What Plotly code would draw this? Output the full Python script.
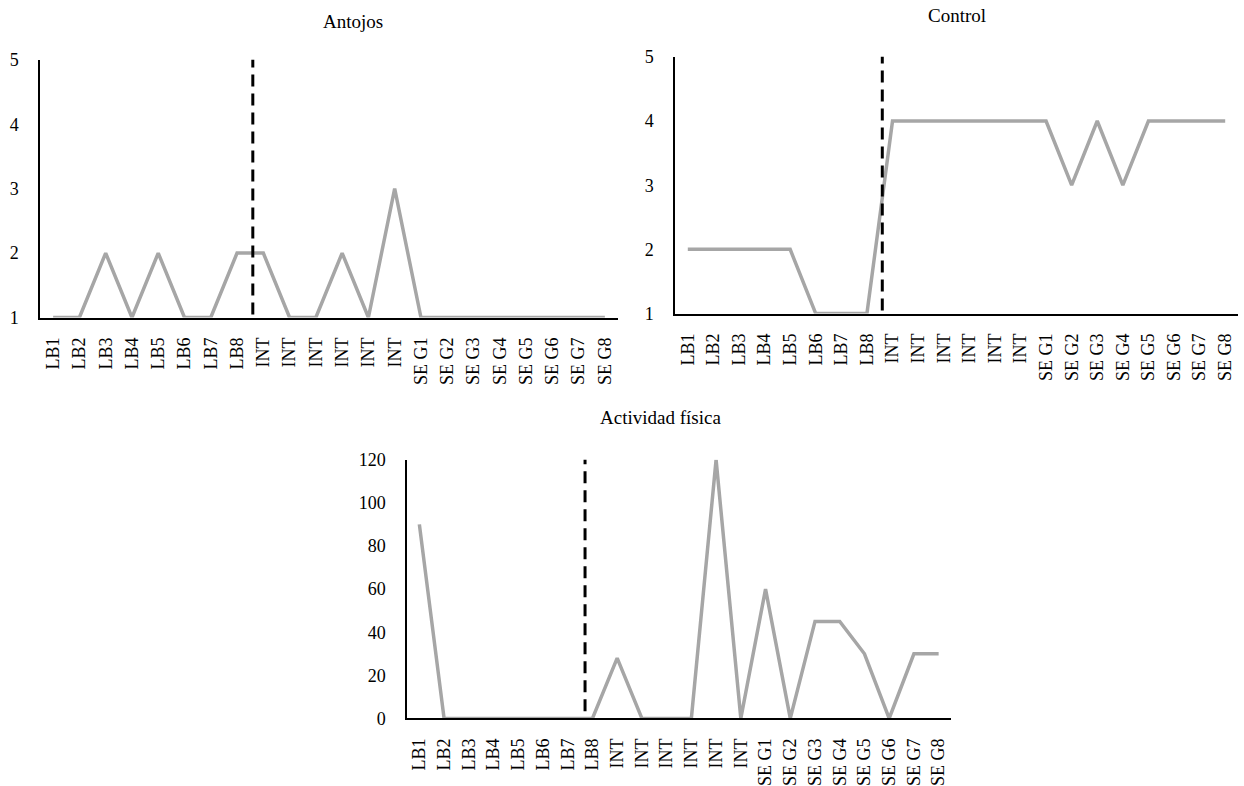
import plotly.graph_objects as go

categories = ["LB1", "LB2", "LB3", "LB4", "LB5", "LB6", "LB7", "LB8",
              "INT", "INT", "INT", "INT", "INT", "INT",
              "SEG1", "SEG2", "SEG3", "SEG4", "SEG5", "SEG6", "SEG7", "SEG8"]
tick_labels = ["LB1", "LB2", "LB3", "LB4", "LB5", "LB6", "LB7", "LB8",
               "INT", "INT", "INT", "INT", "INT", "INT",
               "SE G1", "SE G2", "SE G3", "SE G4", "SE G5", "SE G6", "SE G7", "SE G8"]

antojos = [1, 1, 2, 1, 2, 1, 1, 2, 2, 1, 1, 2, 1, 3, 1, 1, 1, 1, 1, 1, 1, 1]
control = [2, 2, 2, 2, 2, 1, 1, 1, 4, 4, 4, 4, 4, 4, 4, 3, 4, 3, 4, 4, 4, 4]
actividad = [90, 0, 0, 0, 0, 0, 0, 0, 28, 0, 0, 0, 120, 0, 60, 0, 45, 45, 30, 0, 30, 30]

titles = ["Antojos", "Control", "Actividad física"]
phase_change = [7.6, 7.6, 6.7]

W, H = 1244, 786
FONT = "Liberation Serif"
GRAY = "#A6A6A6"

idx = list(range(len(categories)))

fig = go.Figure()
series = [antojos, control, actividad]
for i, ys in enumerate(series):
    ax = "" if i == 0 else str(i + 1)
    fig.add_trace(go.Scatter(
        x=idx, y=ys, mode="lines",
        line=dict(color=GRAY, width=3.5),
        xaxis="x" + ax, yaxis="y" + ax, showlegend=False,
        hovertext=categories,
    ))

def px_x(p):
    return p / W

def px_y(p):
    # compensate for the observed vertical fit of the rendered page
    return 1 - ((p - 10.6) / 0.974) / H

xdomains = [[px_x(40), px_x(618)], [px_x(675), px_x(1238)], [px_x(407), px_x(951)]]
ydomains = [[px_y(322), px_y(61)], [px_y(318), px_y(58)], [px_y(728), px_y(466)]]
yranges = [[1, 5], [1, 5], [0, 120]]
ytickvals = [[1, 2, 3, 4, 5], [1, 2, 3, 4, 5], [0, 20, 40, 60, 80, 100, 120]]

layout = dict(
    width=W, height=H,
    margin=dict(l=0, r=0, t=0, b=0),
    paper_bgcolor="white", plot_bgcolor="white",
    font=dict(family=FONT, color="black", size=18),
    showlegend=False,
)
for i in range(3):
    ax = "" if i == 0 else str(i + 1)
    layout["xaxis" + ax] = dict(
        domain=xdomains[i], anchor="y" + ax, range=[-0.5, 21.5],
        tickmode="array", tickvals=idx, ticktext=tick_labels, tickangle=-90,
        showline=True, linecolor="black", linewidth=1.5,
        showgrid=False, zeroline=False,
        ticks="outside", ticklen=11, tickcolor="rgba(0,0,0,0)",
        tickfont=dict(family=FONT, size=18, color="black"),
    )
    layout["yaxis" + ax] = dict(
        domain=ydomains[i], anchor="x" + ax, range=yranges[i],
        tickmode="array", tickvals=ytickvals[i],
        showline=True, linecolor="black", linewidth=1.5,
        showgrid=False, zeroline=False,
        ticks="outside", ticklen=16, tickcolor="rgba(0,0,0,0)",
        tickfont=dict(family=FONT, size=18, color="black"),
    )
fig.update_layout(**layout)

dash_y = [[0.75, 5.05], [0.75, 5.06], [-5.5, 120.5]]
for i in range(3):
    ax = "" if i == 0 else str(i + 1)
    fig.add_shape(type="line", xref="x" + ax, yref="y" + ax,
                  x0=phase_change[i], x1=phase_change[i],
                  y0=dash_y[i][0], y1=dash_y[i][1],
                  line=dict(color="black", width=3, dash="12px,7px"))

title_pos = [(353, 22), (957, 16), (660, 423)]
for t, (x, y) in zip(titles, title_pos):
    fig.add_annotation(text=t, x=px_x(x), y=px_y(y), xref="paper", yref="paper",
                       showarrow=False, xanchor="center", yanchor="middle",
                       font=dict(family=FONT, size=19, color="black"))

fig.write_html("out.html", config={"displayModeBar": False},
               post_script="document.body.style.margin='0px';")
